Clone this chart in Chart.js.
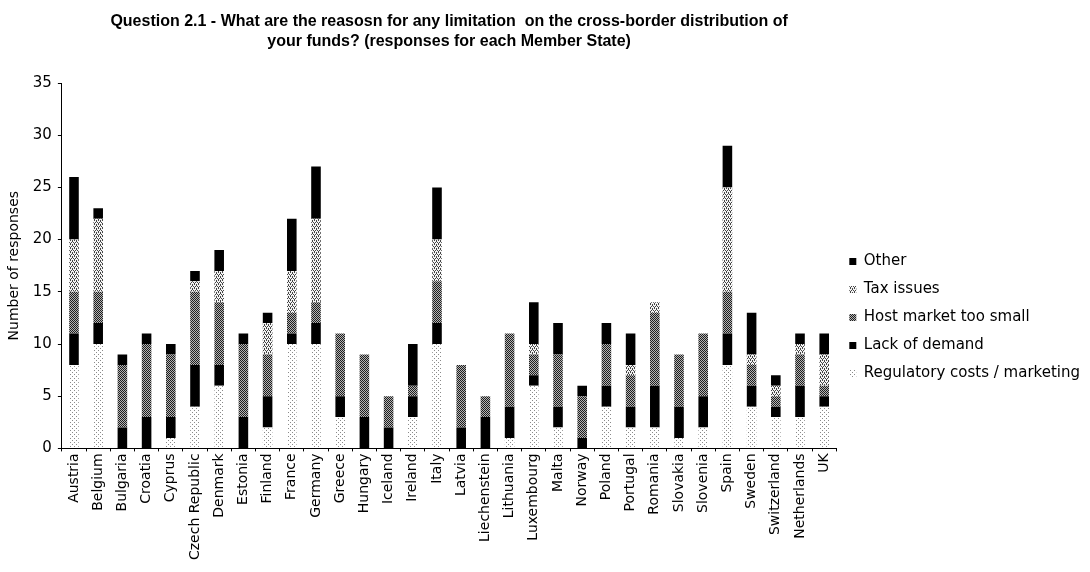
<!DOCTYPE html>
<html>
<head>
<meta charset="utf-8">
<script src="https://cdn.jsdelivr.net/npm/chart.js@4"></script>
<style>
  html, body { margin: 0; padding: 0; background: #fff; }
  #wrap { width: 1090px; height: 572px; }
</style>
</head>
<body>
<div id="wrap"><canvas id="chart" width="1090" height="572"></canvas></div>
<script>
// categories and values (bottom to top of each stack)
const countries = ['Austria', 'Belgium', 'Bulgaria', 'Croatia', 'Cyprus', 'Czech Republic', 'Denmark', 'Estonia',
  'Finland', 'France', 'Germany', 'Greece', 'Hungary', 'Iceland', 'Ireland', 'Italy', 'Latvia', 'Liechenstein',
  'Lithuania', 'Luxembourg', 'Malta', 'Norway', 'Poland', 'Portugal', 'Romania', 'Slovakia', 'Slovenia', 'Spain',
  'Sweden', 'Switzerland', 'Netherlands', 'UK'];
const regulatory = [8, 10, 0, 0, 1, 4, 6, 0, 2, 10, 10, 3, 0, 0, 3, 10, 0, 0, 1, 6, 2, 0, 4, 2, 2, 1, 2, 8, 4, 3, 3, 4];
const lackDemand = [3, 2, 2, 3, 2, 4, 2, 3, 3, 1, 2, 2, 3, 2, 2, 2, 2, 3, 3, 1, 2, 1, 2, 2, 4, 3, 3, 3, 2, 1, 3, 1];
const hostSmall  = [4, 3, 6, 7, 6, 7, 6, 7, 4, 2, 2, 6, 6, 3, 1, 4, 6, 2, 7, 2, 5, 4, 4, 3, 7, 5, 6, 4, 2, 1, 3, 1];
const taxIssues  = [5, 7, 0, 0, 0, 1, 3, 0, 3, 4, 8, 0, 0, 0, 0, 4, 0, 0, 0, 1, 0, 0, 0, 1, 1, 0, 0, 10, 1, 1, 1, 3];
const other      = [6, 1, 1, 1, 1, 1, 2, 1, 1, 5, 5, 0, 0, 0, 4, 5, 0, 0, 0, 4, 3, 1, 2, 3, 0, 0, 0, 4, 4, 1, 1, 2];
const yTicks = [0, 5, 10, 15, 20, 25, 30, 35];

// small dotted fills like the greyscale print
function dots(size, bg, fg, pts) {
  const c = document.createElement('canvas');
  c.width = size; c.height = size;
  const g = c.getContext('2d');
  g.fillStyle = bg; g.fillRect(0, 0, size, size);
  g.fillStyle = fg;
  pts.forEach(p => g.fillRect(p[0], p[1], 1, 1));
  return g.createPattern(c, 'repeat');
}
const ctx = document.getElementById('chart').getContext('2d');
const regFill  = dots(4, '#ffffff', '#8a8a8a', [[0, 0], [2, 2]]);
const hostFill = dots(2, '#b4b4b4', '#1e1e1e', [[0, 0], [1, 1]]);
const taxFill  = dots(4, '#f4f4f4', '#444444', [[0, 0], [2, 0], [1, 2], [3, 2], [0, 1], [2, 3]]);

const FONT = 'DejaVu Sans';

new Chart(ctx, {
  type: 'bar',
  data: {
    labels: countries,
    datasets: [
      { label: 'Regulatory costs / marketing', data: regulatory, backgroundColor: regFill },
      { label: 'Lack of demand', data: lackDemand, backgroundColor: '#000' },
      { label: 'Host market too small', data: hostSmall, backgroundColor: hostFill },
      { label: 'Tax issues', data: taxIssues, backgroundColor: taxFill },
      { label: 'Other', data: other, backgroundColor: '#000' }
    ]
  },
  options: {
    responsive: false,
    animation: false,
    devicePixelRatio: 1,
    layout: { padding: { left: 6, right: 0, top: 0, bottom: 10 } },
    datasets: { bar: { barPercentage: 0.9, categoryPercentage: 0.44, borderWidth: 0 } },
    plugins: {
      title: {
        display: true,
        fullSize: false,
        text: ['Question 2.1 - What are the reasosn for any limitation  on the cross-border distribution of',
               'your funds? (responses for each Member State)'],
        color: '#000',
        font: { family: 'Liberation Sans', size: 16, weight: 'bold', lineHeight: 1.25 },
        padding: { top: 12, bottom: 31 }
      },
      legend: {
        position: 'right',
        reverse: true,
        title: { display: true, text: ' ', font: { size: 4 }, padding: { top: 68, bottom: 0 } },
        labels: {
          color: '#000',
          boxWidth: 7,
          boxHeight: 7,
          padding: 13,
          font: { family: FONT, size: 15 }
        }
      },
      tooltip: { enabled: false }
    },
    scales: {
      x: {
        stacked: true,
        border: { display: true, color: '#000', width: 1, dash: [1, 2] },
        grid: { display: true, drawOnChartArea: false, drawTicks: true, tickLength: 3, color: '#000' },
        ticks: {
          autoSkip: false, minRotation: 90, maxRotation: 90, padding: 2,
          color: '#000', font: { family: FONT, size: 14 }
        }
      },
      y: {
        stacked: true,
        min: 0,
        max: 35,
        afterBuildTicks: axis => { axis.ticks = yTicks.map(v => ({ value: v })); },
        border: { display: true, color: '#000', width: 1, dash: [1, 2] },
        grid: { display: true, drawOnChartArea: false, drawTicks: true, tickLength: 4, color: '#000' },
        ticks: { padding: 6, color: '#000', font: { family: FONT, size: 15 } },
        title: {
          display: true,
          text: 'Number of responses',
          color: '#000',
          font: { family: FONT, size: 14 },
          padding: { top: 0, bottom: 4 }
        }
      }
    }
  }
});
</script>
</body>
</html>
